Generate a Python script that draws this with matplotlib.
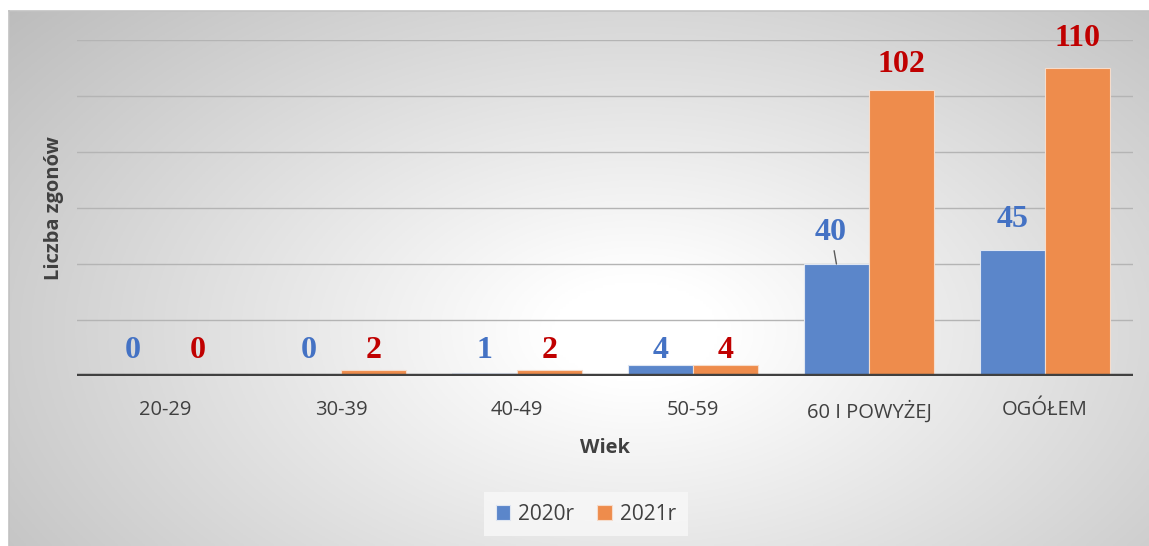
import numpy as np
import matplotlib
matplotlib.use("Agg")
import matplotlib.pyplot as plt

categories = ["20-29", "30-39", "40-49", "50-59", "60 I POWYŻEJ", "OGÓŁEM"]
series_names = ["2020r", "2021r"]
values_2020 = [0, 0, 1, 4, 40, 45]
values_2021 = [0, 2, 2, 4, 102, 110]

W, H = 1149, 546
fig = plt.figure(figsize=(W / 100, H / 100), dpi=100)
fig.patch.set_facecolor("white")

# Background panel with radial gradient
bx0, by0 = 9 / W, 0.0
bw, bh = 1 - bx0, (H - 11) / H
bg = fig.add_axes([bx0, by0, bw, bh])
nx, ny = 400, 200
xx, yy = np.meshgrid(np.linspace(0, 1, nx), np.linspace(0, 1, ny))
cx, cy = 0.55, 0.60
r = np.sqrt(((xx - cx) / 0.62) ** 2 + ((yy - cy) / 0.80) ** 2)
r = np.clip(r, 0, 1.3)
val = np.clip(1.0 - 0.22 * np.clip(r - 0.12, 0, None) / 0.88, 0, 1)
img = np.dstack([val, val, val])
bg.imshow(img, extent=[0, 1, 0, 1], aspect="auto", origin="upper")
bg.set_xlim(0, 1)
bg.set_ylim(0, 1)
bg.axis("off")
fig.add_artist(plt.Line2D([bx0, 1], [bh, bh], transform=fig.transFigure, color="#c2c2c2", lw=1.2))
fig.add_artist(plt.Line2D([bx0, bx0], [0, bh], transform=fig.transFigure, color="#c2c2c2", lw=1.2))

# Main axes
left, right = 77 / W, 1133 / W
bottom, top = (H - 376) / H, (H - 40) / H
ax = fig.add_axes([left, bottom, right - left, top - bottom])
ax.patch.set_alpha(0)
ax.set_xlim(-0.5, len(categories) - 0.5)
ax.set_ylim(0, 120)
ax.set_yticks(np.arange(0, 121, 20))
ax.yaxis.grid(True, color="#b4b4b4", lw=1.0)
ax.set_axisbelow(True)
ax.tick_params(axis="y", left=False, labelleft=False)
ax.tick_params(axis="x", bottom=False, pad=14)
for s in ax.spines.values():
    s.set_visible(False)
ax.axhline(0, color="#404040", lw=3.2, zorder=5)

x = np.arange(len(categories))
bw_ = 0.37
blue, orange = "#5b86ca", "#ee8c4c"
b1 = ax.bar(x - bw_ / 2, values_2020, bw_, color=blue, edgecolor="#dfe6f2", lw=0.8, label=series_names[0], zorder=3)
b2 = ax.bar(x + bw_ / 2, values_2021, bw_, color=orange, edgecolor="#f6dccb", lw=0.8, label=series_names[1], zorder=3)

lab_font = dict(family="Liberation Serif", weight="bold", size=23)


def label(xi, v, color, big_off):
    if v < 10:
        ax.annotate(str(v), xy=(xi, max(v, 4)), xytext=(0, 10.5), textcoords="offset points",
                    ha="center", va="center", color=color, **lab_font)
    else:
        ax.annotate(str(v), xy=(xi, v), xytext=(0, big_off), textcoords="offset points",
                    ha="center", va="center", color=color, **lab_font)


for xi, v in zip(x - bw_ / 2, values_2020):
    if v == 40:
        ax.annotate(str(v), xy=(xi, v), xytext=(-4, 23), textcoords="offset points",
                    ha="center", va="center", color="#4472c4",
                    arrowprops=dict(arrowstyle="-", color="#595959", lw=1.0, shrinkA=1, shrinkB=0), **lab_font)
    else:
        label(xi, v, "#4472c4", 22)
for xi, v in zip(x + bw_ / 2, values_2021):
    label(xi, v, "#c00000", 18.5 if v < 105 else 21)

ax.set_xticks(x)
ax.set_xticklabels(categories, family="Open Sans", fontsize=14.5, color="#404040")
ax.set_xlabel("Wiek", family="Open Sans", fontsize=14.5, weight="bold", color="#404040", labelpad=11)
ax.set_ylabel("Liczba zgonów", family="Open Sans", fontsize=14.5, weight="bold", color="#404040", labelpad=9)

leg = fig.legend(handles=[b1, b2], labels=series_names, loc="center", bbox_to_anchor=(586 / W, (H - 514) / H),
                 ncol=2, frameon=True, fancybox=False, prop=dict(family="Open Sans", size=15),
                 handlelength=0.7, handleheight=0.7, handletextpad=0.4, columnspacing=1.1,
                 borderpad=0.55, labelcolor="#404040")
leg.get_frame().set_facecolor("#f8f8f8")
leg.get_frame().set_edgecolor("none")

fig.savefig("out.png", dpi=100)
